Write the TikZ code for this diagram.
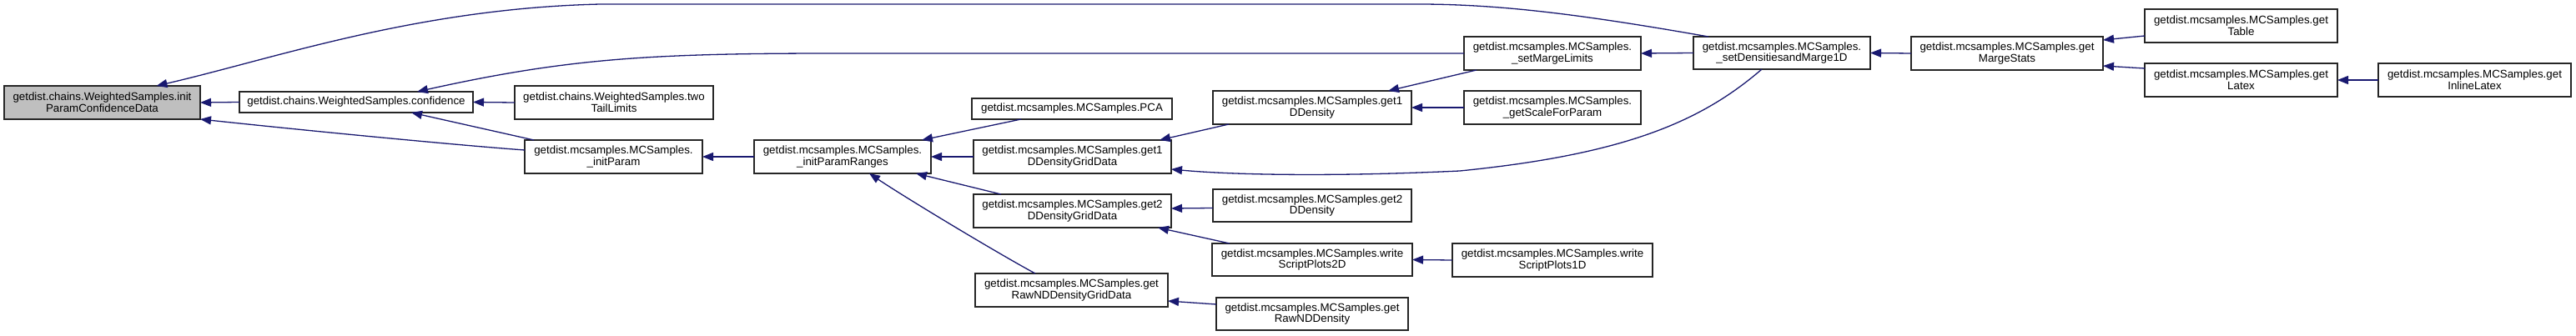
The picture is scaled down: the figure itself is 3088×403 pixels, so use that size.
\documentclass[tikz,border=0pt]{standalone}
\usepackage{fontspec}
\setmainfont{Liberation Sans}
\usetikzlibrary{arrows.meta,calc}
\definecolor{edgeblue}{HTML}{191970}
\definecolor{boxgray}{HTML}{BFBFBF}
\newcommand\fnbox[7][white]{\node[fn, fill=#1, minimum width={(#5-#3)*1pt}, minimum height={(#6-#4)*1pt}] (#2) at ({(#3+#5)/2},{(#4+#6)/2}) {#7};}
\tikzset{
  fn/.style={draw=black!85, line width=1.3pt, inner sep=0pt, outer sep=0pt, align=center,
    font=\fontsize{13.33}{13.8}\selectfont},
  edge/.style={draw=edgeblue, line width=1.3pt, -{Triangle[length=13pt,width=10pt]}, fill=none},
}
\begin{document}
\begin{tikzpicture}[x=1pt,y=-1pt]
\useasboundingbox[fill=white] (0,0) rectangle (3088,403);
% nodes
\fnbox[boxgray]{A}{5}{103}{240}{143}{getdist.chains.WeightedSamples.init\\ParamConfidenceData}
\fnbox{conf}{287}{110}{567}{135}{getdist.chains.WeightedSamples.confidence}
\fnbox{two}{617}{103}{855}{143}{getdist.chains.WeightedSamples.two\\TailLimits}
\fnbox{initP}{629}{168}{842}{208}{getdist.mcsamples.MCSamples.\\\_initParam}
\fnbox{ranges}{904}{168}{1116}{208}{getdist.mcsamples.MCSamples.\\\_initParamRanges}
\fnbox{pca}{1165}{118}{1405}{143}{getdist.mcsamples.MCSamples.PCA}
\fnbox{gonegrid}{1167}{168}{1404}{208}{getdist.mcsamples.MCSamples.get1\\DDensityGridData}
\fnbox{gtwogrid}{1167}{233}{1404}{273}{getdist.mcsamples.MCSamples.get2\\DDensityGridData}
\fnbox{rawgrid}{1169}{328}{1400}{368}{getdist.mcsamples.MCSamples.get\\RawNDDensityGridData}
\fnbox{gone}{1454}{109}{1692}{149}{getdist.mcsamples.MCSamples.get1\\DDensity}
\fnbox{gtwo}{1454}{227}{1692}{266}{getdist.mcsamples.MCSamples.get2\\DDensity}
\fnbox{wtwo}{1453}{292}{1693}{331}{getdist.mcsamples.MCSamples.write\\ScriptPlots2D}
\fnbox{raw}{1458}{357}{1688}{396}{getdist.mcsamples.MCSamples.get\\RawNDDensity}
\fnbox{sml}{1755}{44}{1967}{84}{getdist.mcsamples.MCSamples.\\\_setMargeLimits}
\fnbox{gsp}{1755}{109}{1967}{149}{getdist.mcsamples.MCSamples.\\\_getScaleForParam}
\fnbox{wone}{1741}{292}{1981}{332}{getdist.mcsamples.MCSamples.write\\ScriptPlots1D}
\fnbox{sd}{2030}{44}{2242}{83}{getdist.mcsamples.MCSamples.\\\_setDensitiesandMarge1D}
\fnbox{ms}{2291}{44}{2521}{84}{getdist.mcsamples.MCSamples.get\\MargeStats}
\fnbox{tab}{2571}{11}{2802}{51}{getdist.mcsamples.MCSamples.get\\Table}
\fnbox{lat}{2571}{76}{2802}{116}{getdist.mcsamples.MCSamples.get\\Latex}
\fnbox{inl}{2851}{76}{3082}{116}{getdist.mcsamples.MCSamples.get\\InlineLatex}
% edges (caller -> callee)
\draw[edge] (conf.west) -- (A.east);
\draw[edge] ([yshift=8pt]initP.west) .. controls (560,175) and (400,160) .. (A.south east);
\draw[edge] ([xshift=18pt]sd.north west) .. controls (1900,18) and (1800,5) .. (1700,5)
   -- (720,5) .. controls (500,10) and (330,70) .. ([xshift=65pt]A.north);
\draw[edge] (sml.west) -- (1000,64) .. controls (780,64) and (680,70) .. ([xshift=73pt]conf.north);
\draw[edge] ([xshift=11pt]initP.north west) -- ([xshift=66pt]conf.south);
\draw[edge] (two.west) -- (conf.east);
\draw[edge] (ranges.west) -- (initP.east);
\draw[edge] ([xshift=-61pt]pca.south) -- ([xshift=-11pt]ranges.north east);
\draw[edge] (gonegrid.west) -- (ranges.east);
\draw[edge] ([xshift=33pt]gtwogrid.north west) -- ([xshift=-18pt]ranges.south east);
\draw[edge] ([xshift=72pt]rawgrid.north west) .. controls (1200,306) and (1090,240) .. ([xshift=-74pt]ranges.south east);
\draw[edge] ([xshift=19pt]gone.south west) -- ([xshift=-14pt]gonegrid.north east);
\draw[edge] ([xshift=82pt]sd.south west) .. controls (2040,145) and (1950,185) .. (1750,205)
   .. controls (1600,212) and (1480,210) .. ([yshift=-15pt]gonegrid.east);
\draw[edge] ([yshift=-3pt]gtwo.west) -- ([yshift=3pt]gtwogrid.east);
\draw[edge] ([xshift=21pt]wtwo.north west) -- ([xshift=-16pt]gtwogrid.south east);
\draw[edge] ([yshift=11.5pt]raw.west) -- ([yshift=-13pt]rawgrid.east);
\draw[edge] ([xshift=15pt]sml.south west) -- ([xshift=-28pt]gone.north east);
\draw[edge] (gsp.west) -- (gone.east);
\draw[edge] (wone.west) -- (wtwo.east);
\draw[edge] (sd.west) -- (sml.east);
\draw[edge] (ms.west) -- (sd.east);
\draw[edge] ([yshift=-12pt]tab.west) -- ([yshift=16pt]ms.east);
\draw[edge] ([yshift=14pt]lat.west) -- ([yshift=-15pt]ms.east);
\draw[edge] (inl.west) -- (lat.east);
\end{tikzpicture}
\end{document}
